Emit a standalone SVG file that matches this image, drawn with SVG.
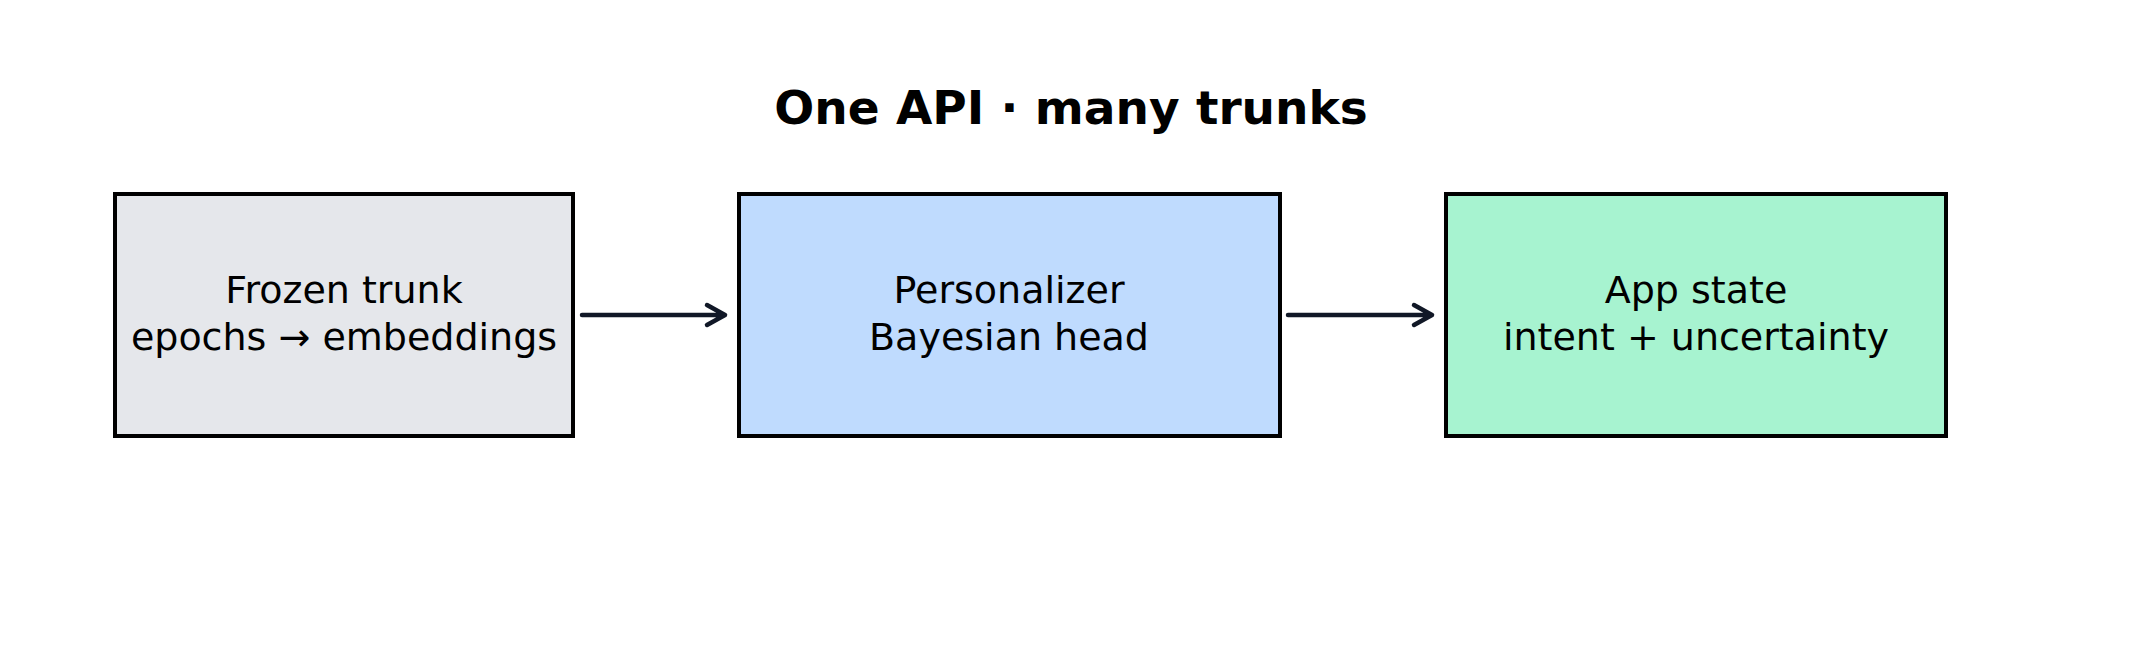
<svg xmlns="http://www.w3.org/2000/svg" width="2144" height="672" viewBox="0 0 2144 672">
<style>
.box{stroke:#000;stroke-width:4}
.t{font-family:"DejaVu Sans",sans-serif;font-size:38px;text-anchor:middle;fill:#000}
.title{font-family:"DejaVu Sans",sans-serif;font-size:47px;font-weight:bold;text-anchor:middle}
.c{stroke:#111827;stroke-width:4.5;fill:none;stroke-linecap:round;stroke-linejoin:round}
</style>
<rect width="2144" height="672" fill="#fff"/>
<text class="title" x="1071" y="124">One API · many trunks</text>
<g id="n1"><rect class="box" x="115" y="194" width="458" height="242" fill="#e5e7eb"/>
<text class="t" x="344" y="303">Frozen trunk</text><text class="t" x="344" y="350">epochs → embeddings</text></g>
<g id="n2"><rect class="box" x="739" y="194" width="541" height="242" fill="#bfdbfe"/>
<text class="t" x="1009" y="303">Personalizer</text><text class="t" x="1009" y="350">Bayesian head</text></g>
<g id="n3"><rect class="box" x="1446" y="194" width="500" height="242" fill="#a7f3d0"/>
<text class="t" x="1696" y="303">App state</text><text class="t" x="1696" y="350">intent + uncertainty</text></g>
<g id="connectors">
<path class="c" d="M582 315H725M707 305L725 315L707 325"/>
<path class="c" d="M1288 315H1432M1414 305L1432 315L1414 325"/>
</g>
</svg>
